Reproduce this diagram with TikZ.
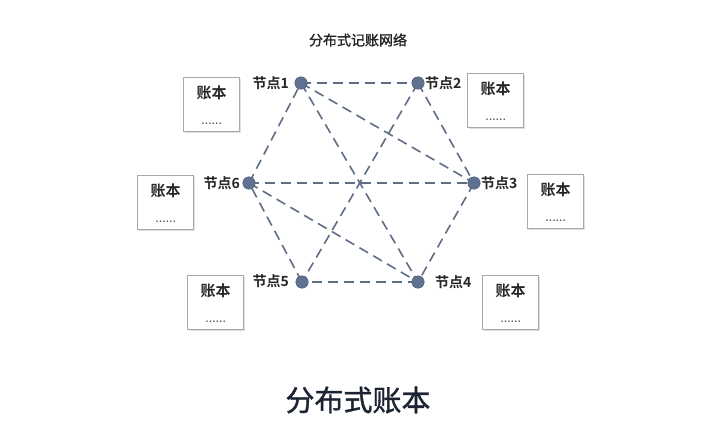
\documentclass[tikz,border=0pt]{standalone}
\usepackage{fontspec}
\newfontfamily\cjk{Noto Sans CJK SC}
\newfontfamily\cjkb{Noto Sans CJK SC Bold}
\newfontfamily\cjkm[FakeBold=1.2]{Noto Sans CJK SC}
\definecolor{dotc}{HTML}{5E7190}
\definecolor{linec}{HTML}{5F6E85}
\definecolor{boxc}{HTML}{A8A8A8}
\definecolor{titlec}{HTML}{1C2333}
\tikzset{
  netnode/.style={circle,fill=dotc,draw=dotc!80!black,line width=0.4pt,minimum size=12.5pt,inner sep=0pt},
  link/.style={draw=linec,line width=1.6pt,dash pattern=on 10pt off 6pt},
  nlabel/.style={font=\cjkb\fontsize{14}{16}\selectfont,text=black!85,inner sep=1pt},
  ledger/.style={draw=boxc,line width=1.4pt,fill=white,minimum width=56pt,minimum height=54pt,inner sep=0pt},
  ledgertext/.style={font=\cjkb\fontsize{15}{17}\selectfont,text=black!85,inner sep=0pt},
}
\newcommand{\ledgerbox}[3]{%
  \fill[black!12] (#2+2,#3+2) rectangle ++(56,54);
  \node[ledger,anchor=north west] (#1) at (#2,#3) {};
  \node[ledgertext] (#1t) at ([yshift=-16pt]#1.north) {账本};
  \node[font=\bfseries\fontsize{11}{11}\selectfont,text=black!75,inner sep=0pt] (#1d) at ([yshift=9pt]#1.south) {......};
}
\begin{document}
\begin{tikzpicture}[x=1pt,y=-1pt]
\useasboundingbox[fill=white] (0,0) rectangle (720,432);
\node[font=\cjkm\fontsize{14}{16}\selectfont,text=black!85] (title) at (358,40) {分布式记账网络};
\node[font=\cjkm\fontsize{29}{32}\selectfont,text=titlec] (bottom) at (358,400) {分布式账本};

\coordinate (p1) at (301,83);
\coordinate (p2) at (418,83);
\coordinate (p3) at (474,183);
\coordinate (p4) at (418,282);
\coordinate (p5) at (302,282);
\coordinate (p6) at (249,183);

\foreach \a/\b in {p1/p2,p2/p3,p3/p4,p4/p5,p5/p6,p6/p1,p1/p3,p1/p4,p2/p5,p6/p3,p6/p4}
  \draw[link] (\a) -- (\b);

\node[netnode] (n1) at (p1) {};
\node[netnode] (n2) at (p2) {};
\node[netnode] (n3) at (p3) {};
\node[netnode] (n4) at (p4) {};
\node[netnode] (n5) at (p5) {};
\node[netnode] (n6) at (p6) {};

\node[nlabel,anchor=east] (l1) at (290,83) {节点1};
\node[nlabel,anchor=west] (l2) at (424,83) {节点2};
\node[nlabel,anchor=west] (l3) at (480,183) {节点3};
\node[nlabel,anchor=west] (l4) at (434,282) {节点4};
\node[nlabel,anchor=east] (l5) at (290,281) {节点5};
\node[nlabel,anchor=east] (l6) at (241,183) {节点6};

\ledgerbox{b1}{183}{77}
\ledgerbox{b2}{467}{73}
\ledgerbox{b3}{527}{174}
\ledgerbox{b4}{482}{275}
\ledgerbox{b5}{187}{275}
\ledgerbox{b6}{137}{175}
\end{tikzpicture}
\end{document}
